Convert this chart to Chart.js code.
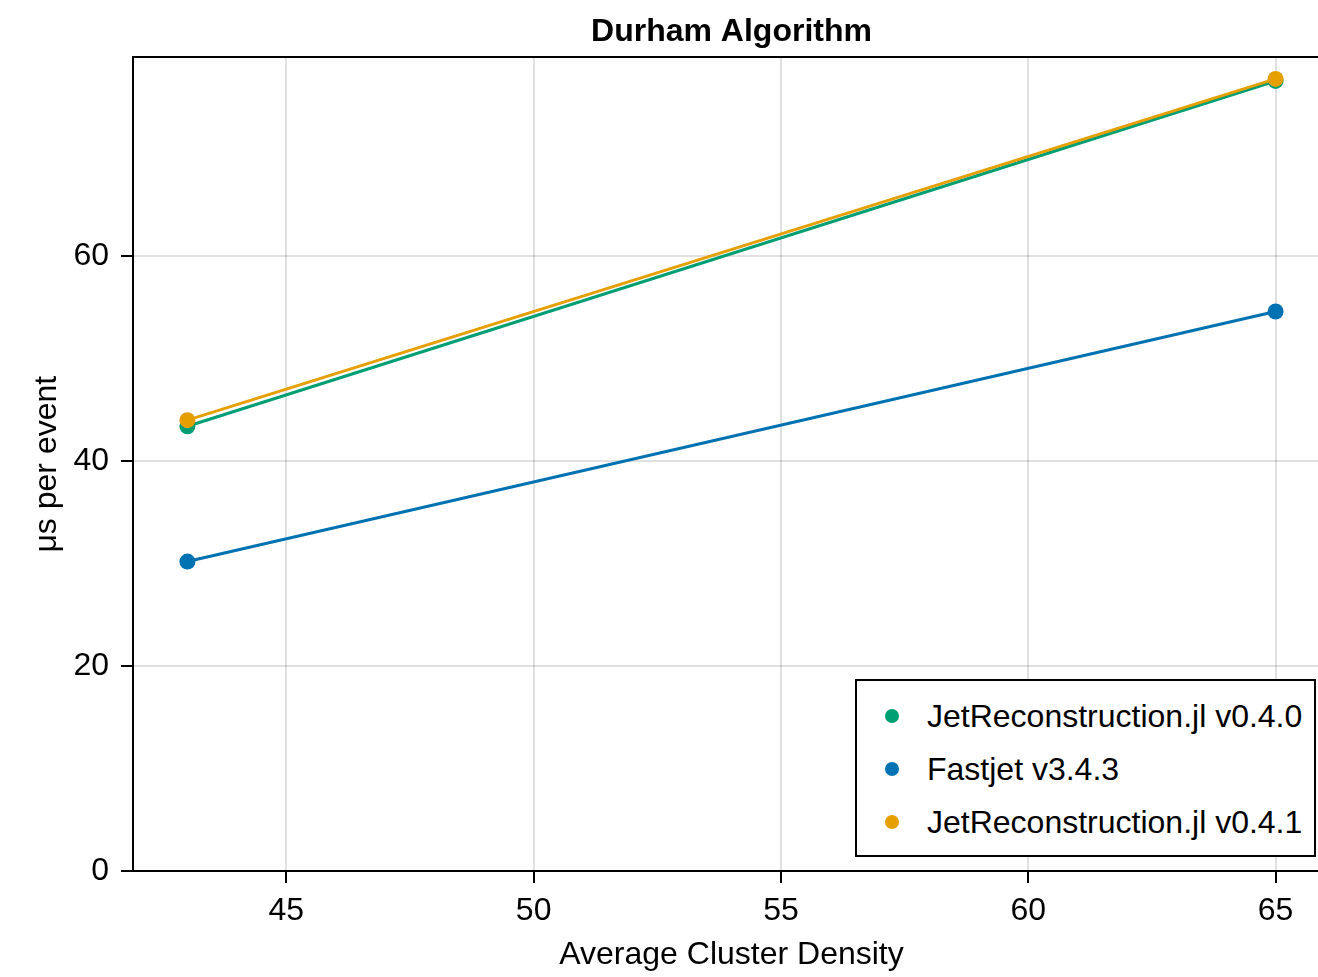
<!DOCTYPE html>
<html>
<head>
<meta charset="utf-8">
<script src="https://cdn.jsdelivr.net/npm/chart.js@4"></script>
<style>
  html, body { margin: 0; padding: 0; background: #fff; overflow: hidden; }
  #wrap { position: relative; width: 1338px; height: 977px; }
  #chart { display: block; }
  #legend {
    position: absolute; left: 855px; top: 679px; width: 457px; height: 174px;
    border: 2px solid #000; background: #fff;
    font-family: "Liberation Sans", Arial, sans-serif; font-size: 32px; color: #000;
  }
  .row { position: absolute; left: 0; height: 40px; line-height: 40px; white-space: nowrap; }
  .dot { position: absolute; left: 28px; top: 13px; width: 14px; height: 14px; border-radius: 50%; }
  .lbl { position: absolute; left: 70px; top: 0; }
</style>
</head>
<body>
<div id="wrap">
  <canvas id="chart" width="1338" height="977"></canvas>
  <div id="legend"></div>
</div>
<script>
// -------------------------
// Data
// -------------------------
const density = [43, 65];
const jet040 = [43.4, 77.1];
const fastjet = [30.2, 54.6];
const jet041 = [44.0, 77.3];

const seriesNames = ["JetReconstruction.jl v0.4.0", "Fastjet v3.4.3", "JetReconstruction.jl v0.4.1"];
const seriesColors = ["#009E73", "#0072B2", "#E69F00"];

const xTicks = [45, 50, 55, 60, 65];
const yTicks = [0, 20, 40, 60];

const FONT = "'Liberation Sans', Arial, sans-serif";

function makeSet(i, values, order) {
  return {
    label: seriesNames[i],
    data: density.map((x, k) => ({ x: x, y: values[k] })),
    borderColor: seriesColors[i],
    backgroundColor: seriesColors[i],
    pointBackgroundColor: seriesColors[i],
    pointBorderWidth: 0,
    pointRadius: 8,
    borderWidth: 3,
    tension: 0,
    order: order
  };
}

const ctx = document.getElementById("chart").getContext("2d");

const chart = new Chart(ctx, {
  type: "line",
  data: {
    datasets: [
      makeSet(0, jet040, 2),
      makeSet(1, fastjet, 1),
      makeSet(2, jet041, 0)
    ]
  },
  options: {
    responsive: false,
    animation: false,
    devicePixelRatio: 1,
    layout: { padding: 0 },
    plugins: {
      legend: { display: false },
      tooltip: { enabled: false },
      title: {
        display: true,
        text: "Durham Algorithm",
        fullSize: false,
        color: "#000",
        font: { family: FONT, size: 32, weight: "bold" },
        padding: { top: 13, bottom: 6 }
      }
    },
    scales: {
      x: {
        type: "linear",
        position: "bottom",
        min: 41.9,
        max: 66.1,
        afterBuildTicks: (s) => { s.ticks = xTicks.map(v => ({ value: v })); },
        afterFit: (s) => { s.height = 106; },
        ticks: { color: "#000", font: { family: FONT, size: 32 }, padding: 9, maxRotation: 0 },
        grid: { color: "rgba(0,0,0,0.12)", lineWidth: 2, tickColor: "#000", tickWidth: 2, tickLength: 12 },
        border: { color: "#000", width: 2 },
        title: {
          display: true,
          text: "Average Cluster Density",
          color: "#000",
          font: { family: FONT, size: 32 },
          padding: { top: 0, bottom: 3 }
        }
      },
      xTop: {
        type: "linear",
        position: "top",
        min: 41.9,
        max: 66.1,
        afterFit: (s) => { s.height = 0; },
        ticks: { display: false },
        grid: { display: false, drawTicks: false },
        border: { color: "#000", width: 2 }
      },
      y: {
        type: "linear",
        min: 0,
        max: 79.4,
        afterBuildTicks: (s) => { s.ticks = yTicks.map(v => ({ value: v })); },
        afterFit: (s) => { s.width = 133; },
        ticks: { color: "#000", font: { family: FONT, size: 32 }, padding: 12 },
        grid: { color: "rgba(0,0,0,0.12)", lineWidth: 2, tickColor: "#000", tickWidth: 2, tickLength: 12 },
        border: { color: "#000", width: 2 },
        title: {
          display: true,
          text: "μs per event",
          color: "#000",
          font: { family: FONT, size: 32 },
          padding: { top: 28, bottom: 0 }
        }
      }
    }
  }
});

// -------------------------
// Legend (inside plot, bottom right)
// -------------------------
const legendEl = document.getElementById("legend");
seriesNames.forEach((name, i) => {
  const row = document.createElement("div");
  row.className = "row";
  row.style.top = (15 + i * 53) + "px";
  row.innerHTML = `<span class="dot" style="background:${seriesColors[i]}"></span><span class="lbl">${name}</span>`;
  legendEl.appendChild(row);
});
</script>
</body>
</html>
